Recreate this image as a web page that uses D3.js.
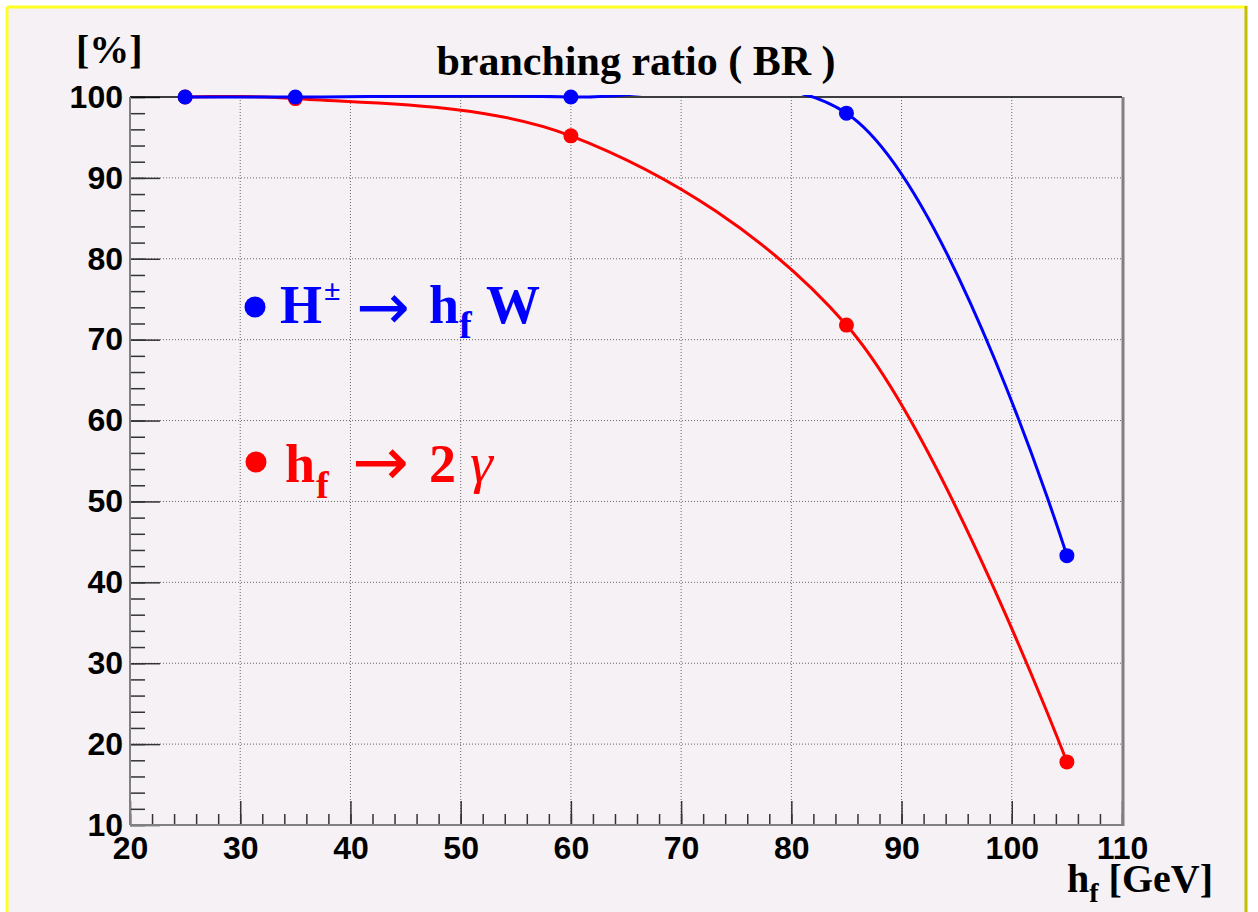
<!DOCTYPE html>
<html>
<head>
<meta charset="utf-8">
<script src="https://cdn.jsdelivr.net/npm/d3@7/dist/d3.min.js"></script>
<style>
  html, body { margin: 0; padding: 0; background: #ffffff; }
  svg { display: block; }
  .tick text { font-family: "Liberation Sans", Arial, sans-serif; font-weight: bold; font-size: 32px; fill: #000; }
  .serif { font-family: "Liberation Serif", "Times New Roman", serif; font-weight: bold; }
  .arrow { font-family: "DejaVu Sans", sans-serif; font-weight: normal; }
</style>
</head>
<body>
<svg id="chart" width="1258" height="912"></svg>
<script>
// Higgs mass points [GeV]
const massGeV = [25, 35, 60, 85, 105];
// BR(H± -> h_f W) [%]
const brHW = [100, 100, 100, 98, 43.3];
// BR(h_f -> 2 gamma) [%]
const brGG = [100, 99.8, 95.2, 71.8, 17.8];

// axis ticks
const xMajor = [20, 30, 40, 50, 60, 70, 80, 90, 100, 110];
const yMajor = [10, 20, 30, 40, 50, 60, 70, 80, 90, 100];
const xMinor = d3.range(20, 110.001, 2);
const yMinor = d3.range(10, 100.001, 2);

const svg = d3.select("#chart");
const W = 1258, H = 912;
const plot = { left: 130, right: 1122, top: 97, bottom: 825 };

const x = d3.scaleLinear().domain([20, 110]).range([plot.left, plot.right]);
const y = d3.scaleLinear().domain([10, 100]).range([plot.bottom, plot.top]);

// canvas pad
svg.append("rect").attr("x", 7).attr("y", 7).attr("width", 1239).attr("height", H)
  .attr("fill", "#f5f1f5");
svg.append("line").attr("x1", 7).attr("x2", 1246).attr("y1", 7).attr("y2", 7)
  .attr("stroke", "#ffff22").attr("stroke-width", 3);
svg.append("line").attr("x1", 7).attr("x2", 7).attr("y1", 7).attr("y2", H)
  .attr("stroke", "#ffff22").attr("stroke-width", 3);
svg.append("line").attr("x1", 1246).attr("x2", 1246).attr("y1", 6).attr("y2", H)
  .attr("stroke", "#c4c000").attr("stroke-width", 3);

// dotted grid
const grid = svg.append("g");
grid.selectAll("line.gx").data(xMajor.filter(v => v > 20 && v < 110)).join("line")
  .attr("x1", d => x(d)).attr("x2", d => x(d))
  .attr("y1", plot.top).attr("y2", plot.bottom)
  .attr("stroke", "#666").attr("stroke-width", 1).attr("stroke-dasharray", "1,2");
grid.selectAll("line.gy").data(yMajor.filter(v => v > 10 && v < 100)).join("line")
  .attr("x1", plot.left).attr("x2", plot.right)
  .attr("y1", d => y(d)).attr("y2", d => y(d))
  .attr("stroke", "#666").attr("stroke-width", 1).attr("stroke-dasharray", "1,2");

// y axis: major ticks with labels, minor ticks
const yAxis = svg.append("g").attr("transform", `translate(${plot.left},0)`)
  .call(d3.axisLeft(y).tickValues(yMajor).tickSize(-30).tickPadding(7).tickFormat(d3.format("d")));
const yAxisMinor = svg.append("g").attr("transform", `translate(${plot.left},0)`)
  .call(d3.axisLeft(y).tickValues(yMinor).tickSize(-15).tickFormat(""));

// x axis
const xAxis = svg.append("g").attr("transform", `translate(0,${plot.bottom})`)
  .call(d3.axisBottom(x).tickValues(xMajor).tickSize(-24).tickPadding(11).tickFormat(d3.format("d")));
const xAxisMinor = svg.append("g").attr("transform", `translate(0,${plot.bottom})`)
  .call(d3.axisBottom(x).tickValues(xMinor).tickSize(-11).tickFormat(""));

[yAxis, yAxisMinor, xAxis, xAxisMinor].forEach(g => {
  g.select(".domain").remove();
  g.selectAll(".tick line").attr("stroke", "#333").attr("stroke-width", 1.5);
});

// frame
svg.append("line").attr("x1", plot.left).attr("x2", plot.right).attr("y1", plot.top).attr("y2", plot.top)
  .attr("stroke", "#000").attr("stroke-width", 1.5);
svg.append("line").attr("x1", plot.right + 1).attr("x2", plot.right + 1).attr("y1", plot.top).attr("y2", plot.bottom + 1)
  .attr("stroke", "#808080").attr("stroke-width", 3);
svg.append("line").attr("x1", plot.left).attr("x2", plot.right).attr("y1", plot.bottom).attr("y2", plot.bottom)
  .attr("stroke", "#808080").attr("stroke-width", 2);
svg.append("line").attr("x1", plot.left).attr("x2", plot.left).attr("y1", plot.top).attr("y2", plot.bottom)
  .attr("stroke", "#808080").attr("stroke-width", 2);

// smooth curves, clipped to the frame
svg.append("clipPath").attr("id", "frameClip").append("rect")
  .attr("x", plot.left).attr("y", plot.top - 2)
  .attr("width", plot.right - plot.left).attr("height", plot.bottom - plot.top + 2);

const line = d3.line().x(d => x(d[0])).y(d => y(d[1])).curve(d3.curveCatmullRom);

const series = [
  { values: brGG, color: "#ff0000" },
  { values: brHW, color: "#0000ff" }
];

series.forEach(s => {
  const pts = massGeV.map((m, i) => [m, s.values[i]]);
  svg.append("path").datum(pts)
    .attr("d", line)
    .attr("clip-path", "url(#frameClip)")
    .attr("fill", "none").attr("stroke", s.color).attr("stroke-width", 3);
  svg.append("g").selectAll("circle").data(pts).join("circle")
    .attr("cx", d => x(d[0])).attr("cy", d => y(d[1])).attr("r", 7.5)
    .attr("fill", s.color);
});

// titles
svg.append("text").attr("class", "serif").attr("x", 636).attr("y", 75)
  .attr("text-anchor", "middle").attr("font-size", 42).text("branching ratio ( BR )");
svg.append("text").attr("class", "serif").attr("x", 76).attr("y", 63)
  .attr("font-size", 40).text("[%]");

const xt = svg.append("text").attr("class", "serif").attr("x", 1067).attr("y", 892).attr("font-size", 40);
xt.append("tspan").text("h");
xt.append("tspan").attr("font-size", 28).attr("dy", 10).text("f");
xt.append("tspan").attr("dy", -10).text(" [GeV]");

// legend
svg.append("circle").attr("cx", 255).attr("cy", 307).attr("r", 10.5).attr("fill", "#0000ff");
const lb = svg.append("text").attr("class", "serif").attr("y", 323).attr("font-size", 54).attr("fill", "#0000ff");
lb.append("tspan").attr("x", 280).text("H");
lb.append("tspan").attr("x", 324).attr("y", 300).attr("font-size", 30).text("±");
lb.append("tspan").attr("class", "arrow").attr("x", 356).attr("y", 329).attr("font-size", 64).text("→");
lb.append("tspan").attr("x", 429).attr("y", 323).text("h");
lb.append("tspan").attr("x", 459).attr("y", 338).attr("font-size", 38).text("f");
lb.append("tspan").attr("x", 486).attr("y", 323).text("W");

svg.append("circle").attr("cx", 256).attr("cy", 462).attr("r", 10.5).attr("fill", "#ff0000");
const lr = svg.append("text").attr("class", "serif").attr("y", 482).attr("font-size", 54).attr("fill", "#ff0000");
lr.append("tspan").attr("x", 285).text("h");
lr.append("tspan").attr("x", 316).attr("y", 498).attr("font-size", 38).text("f");
lr.append("tspan").attr("class", "arrow").attr("x", 352).attr("y", 485).attr("font-size", 68).text("→");
lr.append("tspan").attr("x", 429).attr("y", 482).text("2");
lr.append("tspan").attr("x", 470).attr("font-weight", "normal").attr("font-style", "italic").attr("font-size", 58).text("γ");
</script>
</body>
</html>
